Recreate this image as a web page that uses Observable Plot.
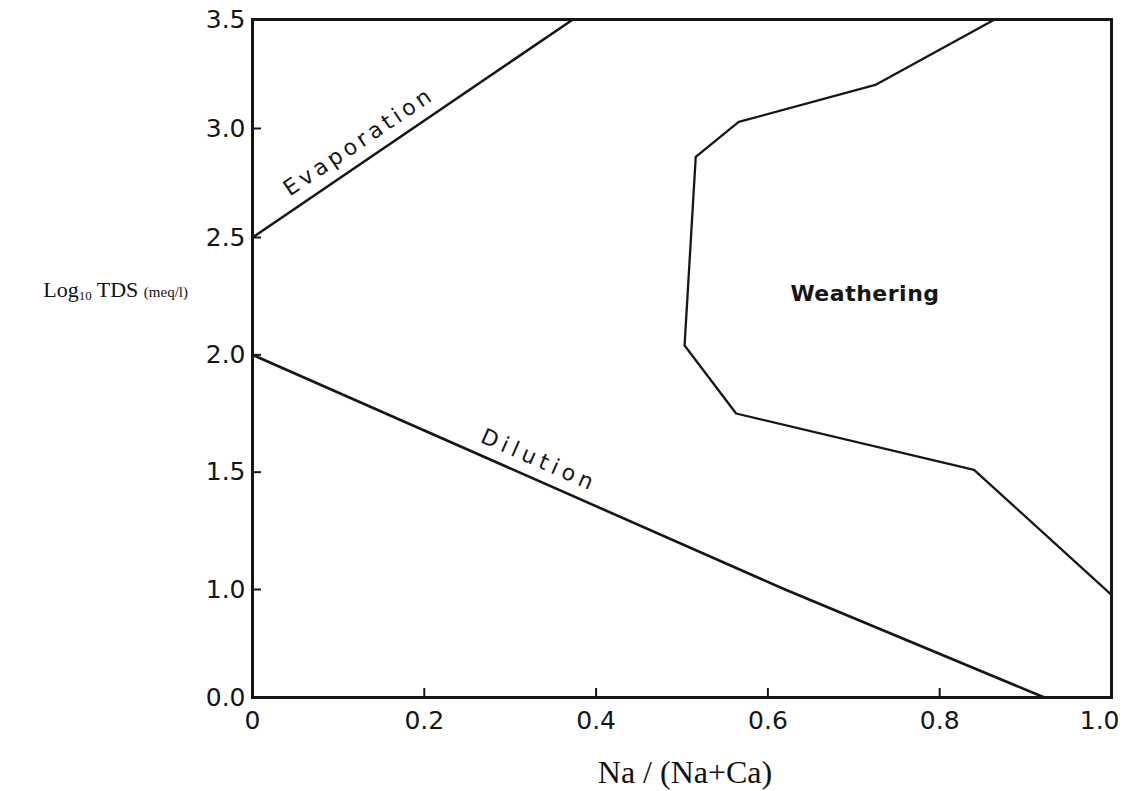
<!DOCTYPE html>
<html>
<head>
<meta charset="utf-8">
<script src="https://cdn.jsdelivr.net/npm/d3@7"></script>
<script src="https://cdn.jsdelivr.net/npm/@observablehq/plot@0.6"></script>
<style>
  html, body { margin: 0; padding: 0; background: #fff; }
  #wrap { position: relative; width: 1123px; height: 791px; overflow: hidden; }
  .title { position: absolute; font-family: "Liberation Serif", serif; color: #111; white-space: nowrap; line-height: 1; }
  #ytitle { font-size: 22px; }
  #ytitle sub { font-size: 13px; vertical-align: -3px; }
  #ytitle .u { font-size: 15px; }
  #xtitle { font-size: 32px; }
</style>
</head>
<body>
<div id="wrap">
  <div id="chart"></div>
  <div id="ytitle" class="title">Log<sub>10</sub> TDS <span class="u">(meq/l)</span></div>
  <div id="xtitle" class="title">Na / (Na+Ca)</div>
</div>
<script>
// ---- data ----
const xTicks = [0, 0.2, 0.4, 0.6, 0.8, 1.0];
const yTicks = [0.0, 1.0, 1.5, 2.0, 2.5, 3.0, 3.5];

const evaporationX = [0, 0.373];
const evaporationY = [2.5, 3.5];

const dilutionX = [0, 0.62, 0.922];
const dilutionY = [2.0, 1.0, 0.0];

const weatheringX = [0.864, 0.725, 0.566, 0.516, 0.503, 0.563, 0.840, 1.0];
const weatheringY = [3.5, 3.2, 3.03, 2.87, 2.04, 1.75, 1.51, 0.95];

const labelText = ["Evaporation", "Dilution", "Weathering"];
const labelX = [0.124, 0.334, 0.713];
const labelY = [2.94, 1.55, 2.26];

// ---- build tables ----
const toPts = (xs, ys) => xs.map((x, i) => ({x, y: ys[i]}));
const evaporation = toPts(evaporationX, evaporationY);
const dilution = toPts(dilutionX, dilutionY);
const weathering = toPts(weatheringX, weatheringY);

const W = 1123, H = 791;
const mL = 252, mR = 12, mT = 19, mB = 94;
const frameW = W - mL - mR, frameH = H - mT - mB;
const ink = "#161616";
const font = "'DejaVu Sans', sans-serif";

const chart = Plot.plot({
  width: W,
  height: H,
  marginLeft: mL,
  marginRight: mR,
  marginTop: mT,
  marginBottom: mB,
  style: {fontFamily: font, fontSize: "25px", color: ink, background: "#fff"},
  x: {domain: [0, 1]},
  // the printed axis is not uniform: 0.0→1.0 is compressed relative to 1.0→3.5
  y: {type: "linear", domain: [0, 1, 2.5, 3.5], range: [H - mB, 589, 237, mT]},
  marks: [
    Plot.axisX({ticks: xTicks.slice(0, -1), tickSize: 0, tickPadding: 14, label: null,
      tickFormat: d => d === 0 ? "0" : d.toFixed(1), fontSize: 25}),
    Plot.axisX({ticks: xTicks.slice(-1), tickSize: 0, tickPadding: 14, label: null,
      tickFormat: d => d.toFixed(1), fontSize: 25, textAnchor: "end", dx: 8}),
    Plot.axisY({ticks: yTicks, tickSize: 0, tickPadding: 7, label: null,
      tickFormat: d => d.toFixed(1), fontSize: 25}),
    Plot.tickX(xTicks.filter(d => d > 0 && d < 1), {x: d => d, insetTop: frameH - 9, stroke: ink, strokeWidth: 2}),
    Plot.tickY(yTicks.filter(d => d > 0 && d < 3.5), {y: d => d, insetRight: frameW - 9, stroke: ink, strokeWidth: 2}),
    Plot.line(evaporation, {x: "x", y: "y", stroke: ink, strokeWidth: 2.6}),
    Plot.line(dilution, {x: "x", y: "y", stroke: ink, strokeWidth: 2.6}),
    Plot.line(weathering, {x: "x", y: "y", stroke: ink, strokeWidth: 2.3, strokeLinejoin: "round"}),
    Plot.text([0], {x: labelX[0], y: labelY[0], text: [labelText[0]], rotate: -34, fontSize: 22, fontFamily: font, fill: ink}),
    Plot.text([1], {x: labelX[1], y: labelY[1], text: [labelText[1]], rotate: 23.6, fontSize: 22, fontFamily: font, fill: ink}),
    Plot.text([2], {x: labelX[2], y: labelY[2], text: [labelText[2]], fontSize: 22, fontWeight: "bold", fontFamily: font, fill: ink}),
    Plot.frame({stroke: ink, strokeWidth: 3})
  ]
});
document.getElementById("chart").appendChild(chart);

// letter spacing for the hand-lettered labels
chart.querySelectorAll("text").forEach(t => {
  if (t.textContent === "Evaporation") t.setAttribute("letter-spacing", "4");
  if (t.textContent === "Dilution") t.setAttribute("letter-spacing", "5");
  if (t.textContent === "Weathering") t.setAttribute("letter-spacing", "0.5");
});

// axis titles: y title ends just left of the tick labels, x title centred under the frame
const yt = document.getElementById("ytitle");
const ytW = yt.getBoundingClientRect().width;
yt.style.left = (188 - ytW) + "px";
yt.style.top = "279px";
const xt = document.getElementById("xtitle");
const xtW = xt.getBoundingClientRect().width;
xt.style.left = (685 - xtW / 2) + "px";
xt.style.top = "756px";
</script>
</body>
</html>
